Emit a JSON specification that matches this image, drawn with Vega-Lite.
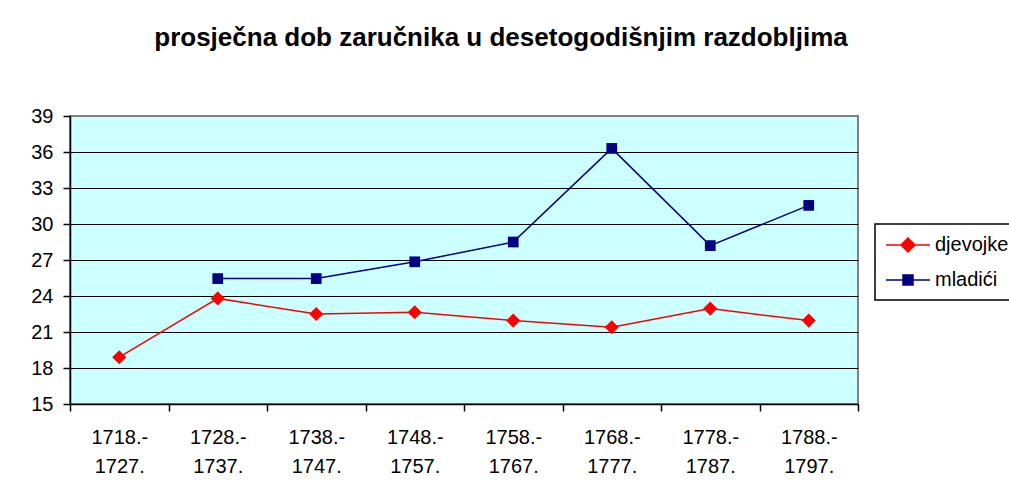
{
  "$schema": "https://vega.github.io/schema/vega-lite/v6.json",
  "width": 788,
  "height": 288,
  "autosize": {"type": "none"},
  "padding": {"left": 70, "top": 116, "right": 151, "bottom": 88},
  "background": "white",
  "title": {
    "text": "prosječna dob zaručnika u desetogodišnjim razdobljima",
    "font": "Liberation Sans",
    "fontSize": 26,
    "fontWeight": "bold",
    "color": "black",
    "anchor": "middle",
    "baseline": "alphabetic",
    "dx": 37,
    "offset": 34
  },
  "config": {
    "view": {"fill": "#CCFFFF", "stroke": "#808080", "strokeWidth": 2},
    "axis": {
      "labelFont": "Liberation Sans",
      "labelFontSize": 20,
      "labelColor": "black",
      "domainColor": "black",
      "domainWidth": 1.5,
      "tickColor": "black",
      "tickWidth": 1.5,
      "tickSize": 7,
      "title": null
    }
  },
  "data": {
    "values": [
      {"period": "1718.-1727.", "series": "djevojke", "value": 18.9},
      {"period": "1728.-1737.", "series": "djevojke", "value": 23.8},
      {"period": "1738.-1747.", "series": "djevojke", "value": 22.5},
      {"period": "1748.-1757.", "series": "djevojke", "value": 22.65},
      {"period": "1758.-1767.", "series": "djevojke", "value": 21.95},
      {"period": "1768.-1777.", "series": "djevojke", "value": 21.4},
      {"period": "1778.-1787.", "series": "djevojke", "value": 22.95},
      {"period": "1788.-1797.", "series": "djevojke", "value": 21.95},
      {"period": "1728.-1737.", "series": "mladići", "value": 25.45},
      {"period": "1738.-1747.", "series": "mladići", "value": 25.45},
      {"period": "1748.-1757.", "series": "mladići", "value": 26.85},
      {"period": "1758.-1767.", "series": "mladići", "value": 28.5},
      {"period": "1768.-1777.", "series": "mladići", "value": 36.3},
      {"period": "1778.-1787.", "series": "mladići", "value": 28.2},
      {"period": "1788.-1797.", "series": "mladići", "value": 31.55}
    ]
  },
  "encoding": {
    "x": {
      "field": "period",
      "type": "nominal",
      "sort": null,
      "bandPosition": 0.5,
      "scale": {"type": "band", "paddingInner": 0, "paddingOuter": 0},
      "axis": {
        "labelAngle": 0,
        "tickBand": "extent",
        "grid": false,
        "labelPadding": 16,
        "labelLineHeight": 29,
        "labelExpr": "[substring(datum.label, 0, 6), substring(datum.label, 6)]"
      }
    },
    "y": {
      "field": "value",
      "type": "quantitative",
      "scale": {"domain": [15, 39], "nice": false, "zero": false},
      "axis": {
        "values": [15, 18, 21, 24, 27, 30, 33, 36, 39],
        "grid": true,
        "gridColor": {"condition": {"test": "datum.value === 39", "value": "#808080"}, "value": "black"},
        "gridWidth": 1.2,
        "labelPadding": 10
      }
    },
    "color": {
      "field": "series",
      "type": "nominal",
      "scale": {"domain": ["djevojke", "mladići"], "range": ["#FF0000", "#000080"]},
      "legend": {
        "title": null,
        "orient": "none",
        "legendX": 805,
        "legendY": 108,
        "strokeColor": "black",
        "fillColor": "white",
        "padding": 10,
        "rowPadding": 14,
        "labelFont": "Liberation Sans",
        "labelFontSize": 20,
        "labelColor": "black",
        "labelOffset": 28,
        "symbolSize": 400,
        "symbolStrokeWidth": 1.5,
        "symbolType": "M-1,0H3.4",
        "encode": {
          "legend": {"update": {"strokeWidth": {"value": 1.5}}},
          "symbols": {
            "update": {
              "shape": {"signal": "datum.value === 'djevojke' ? 'M-1,0H3.4M1.2,-0.7L1.9,0L1.2,0.7L0.5,0Z' : 'M-1,0H3.4M0.7,-0.5H1.7V0.5H0.7Z'"},
              "fill": {"signal": "datum.value === 'djevojke' ? '#FF0000' : '#000080'"},
              "stroke": {"signal": "datum.value === 'djevojke' ? '#FF0000' : '#000080'"},
              "strokeWidth": {"value": 1.5},
              "strokeOpacity": {"value": 1},
              "fillOpacity": {"value": 1},
              "size": {"value": 400},
              "opacity": {"value": 1}
            }
          }
        }
      }
    }
  },
  "layer": [
    {
      "mark": {"type": "line", "strokeWidth": 1.5}
    },
    {
      "transform": [{"filter": "datum.series === 'djevojke'"}],
      "mark": {"type": "point", "filled": true, "opacity": 1, "shape": "diamond", "size": 200}
    },
    {
      "transform": [{"filter": "datum.series === 'mladići'"}],
      "mark": {"type": "point", "filled": true, "opacity": 1, "shape": "square", "size": 115}
    }
  ]
}
